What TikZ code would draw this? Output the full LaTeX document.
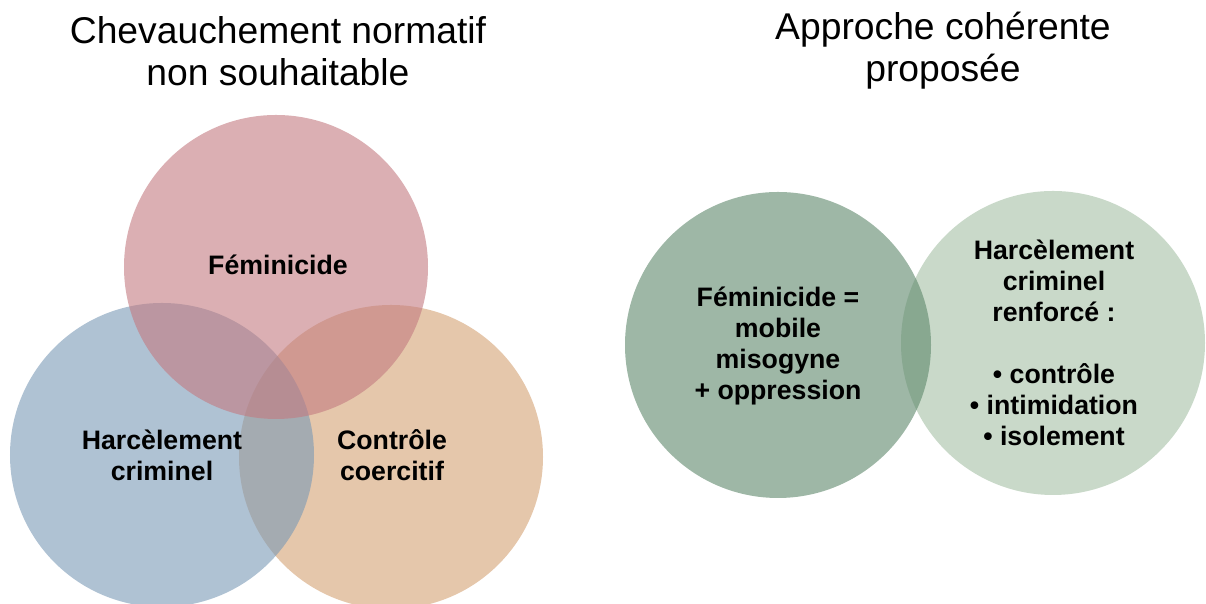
\documentclass[tikz,border=0pt]{standalone}
\usepackage{fontspec}
\setmainfont{Liberation Sans}
\usepackage{xcolor}
\usepackage{tikz}
\usetikzlibrary{positioning}

\definecolor{femred}{RGB}{195,122,128}
\definecolor{harblue}{RGB}{122,153,182}
\definecolor{coeorange}{RGB}{212,162,115}
\definecolor{femgreen}{RGB}{93,135,107}
\definecolor{hargreen}{RGB}{165,192,165}

\tikzset{
  venn/.style={fill opacity=0.6},
  titre/.style={align=center, font=\fontsize{10.6}{11.95}\selectfont},
  etiq/.style={align=center, font=\bfseries\fontsize{7.6}{8.8}\selectfont}
}

\begin{document}
\begin{tikzpicture}[scale=1]

    \useasboundingbox (0,0) rectangle (12.06,6.04);

    % Titres
    \node[titre] (titreG) at (2.78,5.53) {Chevauchement normatif\\non souhaitable};
    \node[titre] (titreD) at (9.43,5.53) {Approche cohérente\\proposée};

    % Cercles gauche
    \fill[coeorange, venn] (3.91,1.47) circle (1.52);
    \fill[harblue, venn] (1.62,1.49) circle (1.52);
    \fill[femred, venn] (2.76,3.37) circle (1.52);

    \node[etiq] (fem) at (2.78,3.39) {Féminicide};
    \node[etiq] (harc) at (1.62,1.49) {Harcèlement\\criminel};
    \node[etiq] (ctrl) at (3.92,1.49) {Contrôle\\coercitif};

    % Cercles droite
    \fill[hargreen, venn] (10.53,2.61) circle (1.52);
    \fill[femgreen, venn] (7.78,2.59) circle (1.53);

    \node[etiq] (femD) at (7.78,2.58) {Féminicide =\\mobile\\misogyne\\+ oppression};
    \node[etiq] (harcD) at (10.54,2.61) {Harcèlement\\criminel\\renforcé :\\[8.8pt]
      • contrôle\\• intimidation\\• isolement};
\end{tikzpicture}
\end{document}
